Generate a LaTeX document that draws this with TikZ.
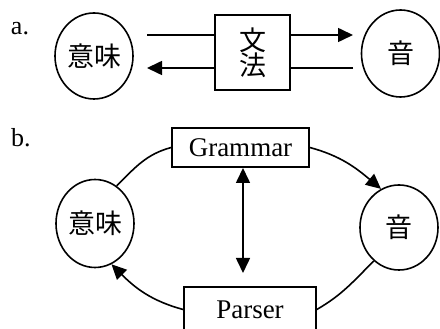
\documentclass[tikz,border=0pt]{standalone}
\usepackage{fontspec}
\setmainfont{Liberation Serif}
\newfontfamily\cjk{Noto Sans CJK JP}
\usetikzlibrary{shapes.geometric,arrows.meta}
\tikzset{
  conn/.style={line width=1.6pt},
  arr/.style={conn,-{Triangle[length=15pt,width=14pt]}},
  darr/.style={conn,{Triangle[length=15pt,width=14pt]}-{Triangle[length=15pt,width=14pt]}},
  circ/.style={draw,line width=1.6pt,ellipse,inner sep=0pt,minimum width=78pt,minimum height=86pt,font=\cjk\fontsize{27}{27}\selectfont},
  boxnode/.style={draw,line width=1.6pt,rectangle,inner sep=0pt},
  lab/.style={font=\fontsize{26}{26}\selectfont}
}
\begin{document}
\begin{tikzpicture}[x=1pt,y=1pt]
\useasboundingbox (0,0) rectangle (440,329);
\clip (0,0) rectangle (440,329);
% part a
\node[lab] (la) at (20,300) {a.};
\node[circ] (LA) at (94,273) {意味};
\node[boxnode,minimum width=75pt,minimum height=75pt,align=center,font=\cjk\fontsize{27}{25}\selectfont] (F) at (252.5,276.5) {文\\法};
\node[circ,minimum height=87pt] (RA) at (400.5,275.5) {音};
\coordinate (t1) at (147,294);
\coordinate (t2) at (353,294);
\coordinate (b1) at (147,261);
\coordinate (b2) at (353,261);
\draw[conn] (t1) -- (t1 -| F.west);
\draw[arr] (t2 -| F.east) -- (t2);
\draw[conn] (b2) -- (b2 -| F.east);
\draw[arr] (b1 -| F.west) -- (b1);
% part b
\node[lab] (lb) at (21,191) {b.};
\node[boxnode,minimum width=137pt,minimum height=39pt,font=\fontsize{27}{27}\selectfont] (G) at (240.5,181.5) {Grammar};
\node[boxnode,minimum width=132pt,minimum height=45pt,font=\fontsize{27}{27}\selectfont] (P) at (250,19.5) {Parser};
\node[circ,minimum height=88pt] (LB) at (95,105.5) {意味};
\node[circ,minimum height=85pt] (RB) at (399,101.5) {音};
\coordinate (v1) at (243,161);
\coordinate (v2) at (243,56);
\draw[darr] (v1) -- (v2);
\draw[conn] (G.west) to[out=195,in=45] (LB.60);
\draw[arr] (G.east) to[out=-15,in=140] (RB.115);
\draw[conn] (RB.233) to[out=225,in=30] (P.east);
\draw[arr] (P.west) to[out=165,in=-45] (LB.-68);
\end{tikzpicture}
\end{document}
